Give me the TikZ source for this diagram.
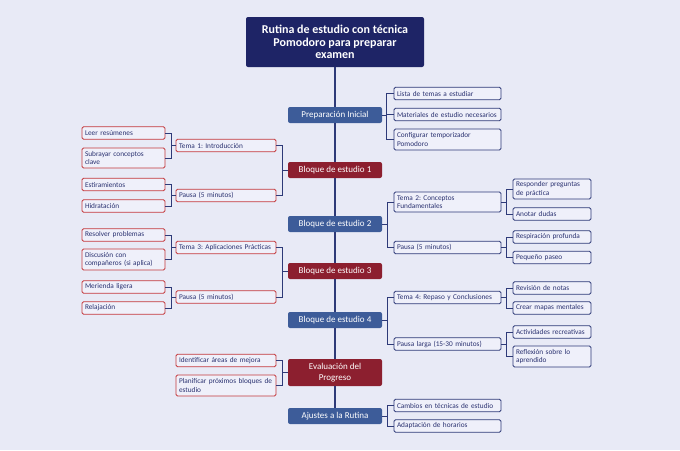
\documentclass[tikz,border=0pt]{standalone}
\usepackage{fontspec}
\setmainfont{Carlito}
\usetikzlibrary{positioning}

\definecolor{bgcol}{HTML}{E8EAF6}
\definecolor{titlecol}{HTML}{1E2466}
\definecolor{bluecol}{HTML}{3D5C99}
\definecolor{redcol}{HTML}{8C1F2F}
\definecolor{leaffill}{HTML}{EFF0FA}
\definecolor{navyline}{HTML}{2E3A78}
\definecolor{redline}{HTML}{C4383C}
\definecolor{navytext}{HTML}{2A3170}

\begin{document}
\frenchspacing
\hyphenpenalty=10000\relax
\begin{tikzpicture}[x=1pt,y=-1pt,
    every node/.style={font=\fontsize{7.3}{8.3}\selectfont},
    link/.style={draw=navyline, line width=1pt},
    titlebox/.style={rectangle, rounded corners=2pt, fill=titlecol, text=white, align=center,
        font=\fontsize{12}{12.4}\selectfont\bfseries, minimum width=178pt, minimum height=50pt},
    mainbox/.style={rectangle, rounded corners=2pt, text=white, align=center,
        font=\fontsize{9}{10.5}\selectfont, minimum width=94pt, minimum height=16pt},
    bluebox/.style={mainbox, fill=bluecol},
    redbox/.style={mainbox, fill=redcol},
    leafR/.style={rectangle, draw=navyline, fill=leaffill, rounded corners=1.5pt, line width=0.9pt,
        text=navytext, align=left, inner xsep=3pt, inner ysep=1pt, minimum height=12.5pt},
    leafL/.style={leafR, draw=redline},
    midR/.style={leafR, text width=101pt},
    tipR/.style={leafR, text width=72pt},
    midL/.style={leafL, text width=94pt},
    tipL/.style={leafL, text width=77pt}]

    \useasboundingbox[fill=bgcol] (0,0) rectangle (680,450);

    % spine
    \node[titlebox] (title) at (335,42) {Rutina de estudio con técnica\\Pomodoro para preparar\\examen};
    \node[bluebox] (prep) at (335,115) {Preparación Inicial};
    \node[redbox] (b1) at (335,170) {Bloque de estudio 1};
    \node[bluebox] (b2) at (335,224) {Bloque de estudio 2};
    \node[redbox] (b3) at (335,271) {Bloque de estudio 3};
    \node[bluebox] (b4) at (335,320) {Bloque de estudio 4};
    \node[redbox, minimum height=27pt] (eval) at (335,372.5) {Evaluación del\\Progreso};
    \node[bluebox] (ajus) at (335,416) {Ajustes a la Rutina};

    % right side
    \node[midR] (p1) at (447.5,93.5) {Lista de temas a estudiar};
    \node[midR] (p2) at (447.5,114.5) {Materiales de estudio necesarios};
    \node[midR, minimum height=21pt] (p3) at (447.5,139.5) {Configurar temporizador\\Pomodoro};
    \node[midR, minimum height=20pt] (t2) at (447.5,202) {Tema 2: Conceptos\\Fundamentales};
    \node[midR] (pa2) at (447.5,247.5) {Pausa (5 minutos)};
    \node[midR] (t4) at (447.5,297.5) {Tema 4: Repaso y Conclusiones};
    \node[midR] (pa4) at (447.5,344) {Pausa larga (15-30 minutos)};
    \node[midR] (aj1) at (447.5,405.5) {Cambios en técnicas de estudio};
    \node[midR] (aj2) at (447.5,426) {Adaptación de horarios};

    \node[tipR, minimum height=20pt] (r1) at (552,189) {Responder preguntas\\de práctica};
    \node[tipR] (r2) at (552,214) {Anotar dudas};
    \node[tipR] (r3) at (552,237) {Respiración profunda};
    \node[tipR] (r4) at (552,257.5) {Pequeño paseo};
    \node[tipR] (r5) at (552,288) {Revisión de notas};
    \node[tipR] (r6) at (552,308) {Crear mapas mentales};
    \node[tipR] (r7) at (552,332) {Actividades recreativas};
    \node[tipR, minimum height=21pt] (r8) at (552,356.5) {Reflexión sobre lo\\aprendido};

    % left side
    \node[midL] (t1) at (226,145.5) {Tema 1: Introducción};
    \node[midL] (pa1) at (226,195.5) {Pausa (5 minutos)};
    \node[midL] (t3) at (226,247.5) {Tema 3: Aplicaciones Prácticas};
    \node[midL] (pa3) at (226,297) {Pausa (5 minutos)};
    \node[midL] (ev1) at (226,360.5) {Identificar áreas de mejora};
    \node[midL, minimum height=21pt] (ev2) at (226,385.5) {Planificar próximos bloques de\\estudio};

    \node[tipL] (l1) at (123.5,133) {Leer resúmenes};
    \node[tipL, minimum height=20pt] (l2) at (123.5,158) {Subrayar conceptos\\clave};
    \node[tipL] (l3) at (123.5,184.5) {Estiramientos};
    \node[tipL] (l4) at (123.5,206) {Hidratación};
    \node[tipL] (l5) at (123.5,235) {Resolver problemas};
    \node[tipL, minimum height=21pt] (l6) at (123.5,259.5) {Discusión con\\compañeros (si aplica)};
    \node[tipL] (l7) at (123.5,287) {Merienda ligera};
    \node[tipL] (l8) at (123.5,308) {Relajación};

    % connectors
    \draw[link, line width=1.3pt] (title) -- (prep) -- (b1) -- (b2) -- (b3) -- (b4) -- (eval) -- (ajus);
    \draw[link] (p1.west) -- ++(-7,0) coordinate (jp) |- (p3.west);
    \draw[link] (jp |- p2.west) -- (p2.west);
    \draw[link] (prep.east) -- (prep.east -| jp);
    \foreach \p/\a/\b in {b2/t2/pa2, b4/t4/pa4, ajus/aj1/aj2, t2/r1/r2, pa2/r3/r4, t4/r5/r6, pa4/r7/r8} {
        \draw[link] (\a.west) -- ++(-6,0) coordinate (j) |- (\b.west);
        \draw[link] (\p.east) -- (\p.east -| j);
    }
    \foreach \p/\a/\b in {b1/t1/pa1, b3/t3/pa3, eval/ev1/ev2, t1/l1/l2, pa1/l3/l4, t3/l5/l6, pa3/l7/l8} {
        \draw[link] (\a.east) -- ++(6,0) coordinate (j) |- (\b.east);
        \draw[link] (\p.west) -- (\p.west -| j);
    }
\end{tikzpicture}
\end{document}
